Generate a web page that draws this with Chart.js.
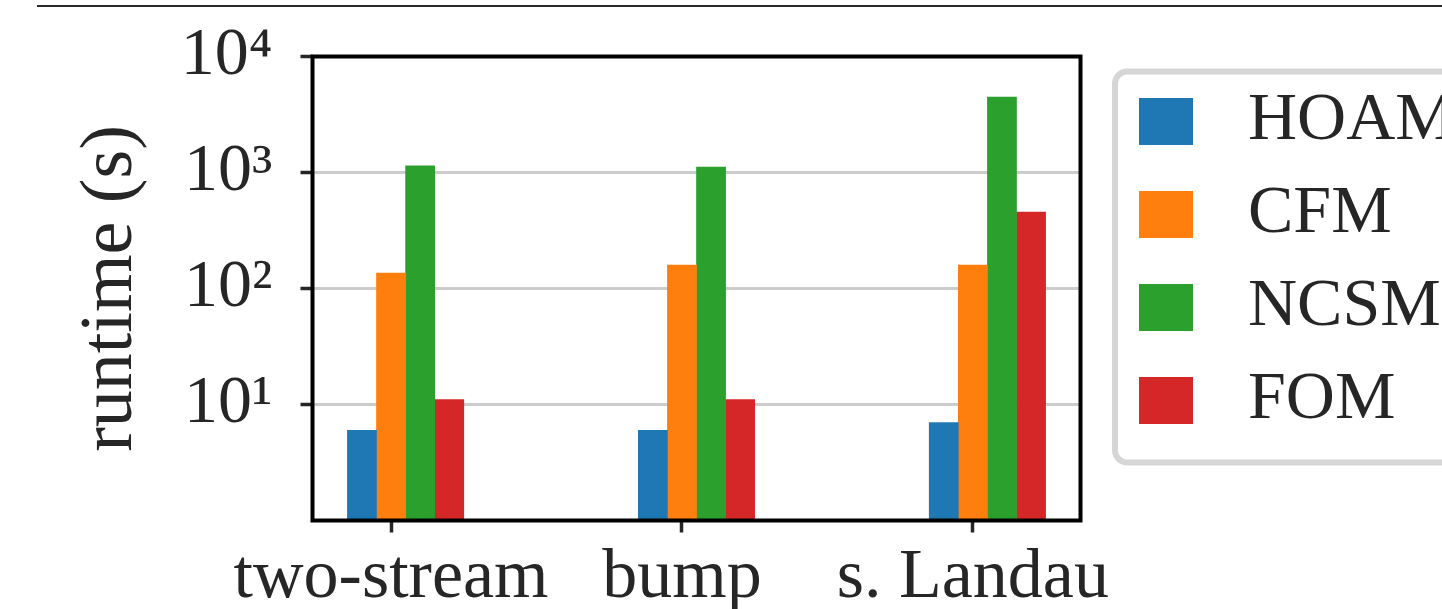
<!DOCTYPE html>
<html>
<head>
<meta charset="utf-8">
<title>runtime (s)</title>
<script src="https://cdn.jsdelivr.net/npm/chart.js@4.4.1/dist/chart.umd.min.js"></script>
<style>
  html, body { margin: 0; padding: 0; background: #fff; overflow: hidden; }
  #wrap { position: relative; width: 1442px; height: 609px; }
  #rule { position: absolute; left: 37px; right: 0; top: 4.5px; height: 2px; background: #2b2b2b; }
  canvas { display: block; }
</style>
</head>
<body>
<div id="wrap">
  <div id="rule"></div>
  <canvas id="chart" width="1442" height="609"></canvas>
</div>
<script>
// Test cases on the x axis
const categories = ['two-stream', 'bump', 's. Landau'];

// Runtime in seconds for each method and test case
const seriesNames = ['HOAM', 'CFM', 'NCSM', 'FOM'];
const hoam = [6, 6, 7];
const cfm  = [136, 159, 159];
const ncsm = [1140, 1115, 4470];
const fom  = [11, 11, 455];

// Decades labelled on the log axis
const yTickValues = [10, 100, 1000, 10000];
const yTickLabels = ['10\u00B9', '10\u00B2', '10\u00B3', '10\u2074'];

const seriesValues = [hoam, cfm, ncsm, fom];
const colors = ['#1f77b4', '#ff7f0e', '#2ca02c', '#d62728'];
const TEXT = '#262626';
const FONT = "'Liberation Serif', 'Times New Roman', serif";

// Bars of one group sit side by side, each 0.1 wide; the category tick
// falls on the second bar of the group.
const BAR_STEP = 0.1;

const datasets = seriesNames.map((name, k) => ({
  label: name,
  xAxisID: 'x',
  yAxisID: 'y',
  backgroundColor: colors[k],
  borderWidth: 0,
  grouped: false,
  categoryPercentage: 1,
  barPercentage: 1,
  data: seriesValues[k].map((v, i) => ({ x: i + (k - 1) * BAR_STEP, y: v }))
}));

// Square legend swatch drawn as an image, with blank space on its right
function swatch(color) {
  const c = document.createElement('canvas');
  c.width = 75;
  c.height = 47;
  const g = c.getContext('2d');
  g.fillStyle = color;
  g.fillRect(0, 0, 54, 47);
  return c;
}

// Axes frame drawn on top of the bars
const frame = {
  id: 'frame',
  afterDatasetsDraw(chart) {
    const { ctx, chartArea: a } = chart;
    ctx.save();
    ctx.strokeStyle = '#000';
    ctx.lineWidth = 4;
    ctx.strokeRect(a.left, a.top, a.right - a.left, a.bottom - a.top);
    ctx.restore();
  }
};

// Rounded legend box behind the legend entries
const legendBox = {
  id: 'legendBox',
  beforeDraw(chart) {
    const lg = chart.legend;
    if (!lg) return;
    const { ctx } = chart;
    const x = lg.left + 1, y = lg.top + 15, w = 600, h = 391, r = 12;
    ctx.save();
    ctx.beginPath();
    ctx.roundRect(x, y, w, h, r);
    ctx.fillStyle = '#fff';
    ctx.fill();
    ctx.lineWidth = 6;
    ctx.strokeStyle = '#d6d6d6';
    ctx.stroke();
    ctx.restore();
  }
};

Chart.defaults.font.family = FONT;
Chart.defaults.color = TEXT;

new Chart(document.getElementById('chart'), {
  type: 'bar',
  data: { datasets },
  options: {
    responsive: false,
    animation: false,
    devicePixelRatio: 1,
    layout: { padding: { top: 56.5, left: 0, bottom: 0, right: 0 } },
    plugins: {
      tooltip: { enabled: false },
      legend: {
        position: 'right',
        align: 'start',
        fullSize: false,
        maxWidth: 328,
        title: { display: true, text: '', font: { size: 0 }, padding: { top: 6, bottom: 0 } },
        labels: {
          font: { family: FONT, size: 68 },
          color: TEXT,
          padding: 25,
          usePointStyle: true,
          pointStyleWidth: 75,
          boxHeight: 47,
          generateLabels(chart) {
            const items = Chart.defaults.plugins.legend.labels.generateLabels(chart);
            items.forEach(it => { it.pointStyle = swatch(it.fillStyle); });
            return items;
          }
        }
      }
    },
    scales: {
      x: {
        type: 'linear',
        position: 'bottom',
        offset: false,
        min: -0.27,
        max: 2.37,
        afterFit(s) { s.height = 88.5; },
        afterBuildTicks(s) { s.ticks = categories.map((c, i) => ({ value: i })); },
        border: { display: false },
        grid: {
          offset: false,
          drawOnChartArea: false,
          drawTicks: true,
          tickLength: 12,
          tickColor: TEXT,
          tickWidth: 3.5
        },
        ticks: {
          autoSkip: false,
          maxRotation: 0,
          minRotation: 0,
          padding: 4,
          color: TEXT,
          font: { family: FONT, size: 70 },
          callback: (v, i) => categories[i]
        }
      },
      y: {
        type: 'logarithmic',
        position: 'left',
        min: 1,
        max: 10000,
        afterFit(s) { s.width = 312.5; s.paddingTop = 0; s.paddingBottom = 0; },
        afterBuildTicks(s) { s.ticks = yTickValues.map(v => ({ value: v })); },
        border: { display: false },
        grid: {
          color: '#cccccc',
          lineWidth: 3,
          drawTicks: true,
          tickLength: 12,
          tickColor: TEXT,
          tickWidth: 3.5
        },
        ticks: {
          padding: 28,
          color: TEXT,
          font: { family: FONT, size: 68 },
          callback: (v, i) => yTickLabels[i]
        },
        title: {
          display: true,
          text: 'runtime (s)',
          color: TEXT,
          font: { family: FONT, size: 74 },
          padding: { top: 67, bottom: 0 }
        }
      },
      ySpace: {
        type: 'linear',
        position: 'right',
        display: true,
        afterFit(s) { s.width = 33.5; s.paddingTop = 0; s.paddingBottom = 0; },
        border: { display: false },
        grid: { display: false },
        ticks: { display: false }
      }
    }
  },
  plugins: [legendBox, frame]
});
</script>
</body>
</html>
